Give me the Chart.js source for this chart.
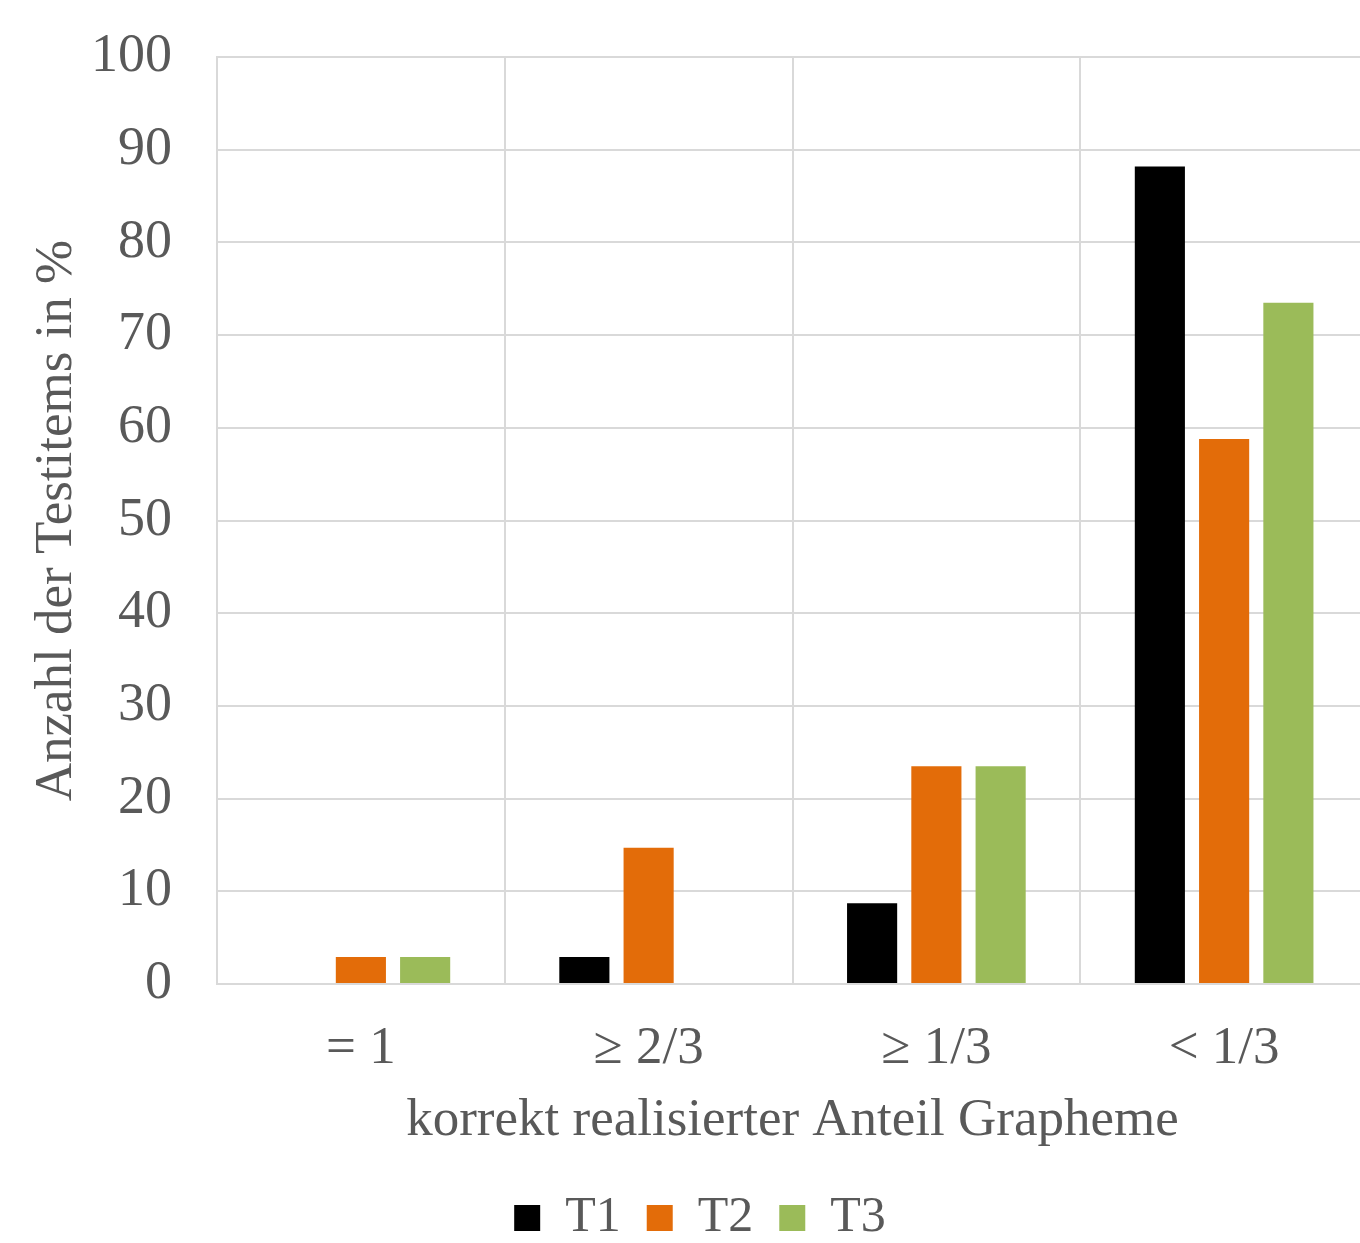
<!DOCTYPE html>
<html>
<head>
<meta charset="utf-8">
<script src="https://cdn.jsdelivr.net/npm/chart.js@4"></script>
<style>
  html, body { margin: 0; padding: 0; background: #fff; }
  #wrap { width: 1360px; height: 1243px; }
</style>
</head>
<body>
<div id="wrap"><canvas id="chart"></canvas></div>
<script>
// Kategorien und Werte (Prozent)
const categories = ['= 1', '≥ 2/3', '≥ 1/3', '< 1/3'];
const seriesNames = ['T1', 'T2', 'T3'];
const t1Values = [0, 2.9, 8.7, 88.2];
const t2Values = [2.9, 14.7, 23.5, 58.8];
const t3Values = [2.9, 0, 23.5, 73.5];
const seriesColors = ['#000000', '#E36C09', '#9BBB59'];

const fontFamily = '"Liberation Serif", "Times New Roman", serif';
const textColor = '#595959';
const gridColor = '#D9D9D9';

// Plotfläche reicht rechts etwas über den Rand hinaus (wie im Original),
// Legende leicht nach rechts versetzt
const stretchPlot = {
    id: 'stretchPlot',
    afterLayout(chart) {
        const right = 1368;
        const x = chart.scales.x;
        chart.chartArea.right = right;
        chart.chartArea.width = right - chart.chartArea.left;
        x.right = right;
        x.width = right - x.left;
        x.configure();
        if (chart.legend) {
            chart.legend.left += 20;
            chart.legend.right += 20;
        }
    }
};

const ctx = document.getElementById('chart').getContext('2d');
new Chart(ctx, {
    type: 'bar',
    data: {
        labels: categories,
        datasets: [t1Values, t2Values, t3Values].map((vals, i) => ({
            label: seriesNames[i],
            data: vals,
            backgroundColor: seriesColors[i],
            borderWidth: 0,
            barPercentage: 0.78,
            categoryPercentage: 0.67
        }))
    },
    plugins: [stretchPlot],
    options: {
        responsive: true,
        maintainAspectRatio: false,
        animation: false,
        layout: { padding: { top: 0, right: 0, left: 0, bottom: -10 } },
        plugins: {
            tooltip: { enabled: false },
            legend: {
                position: 'bottom',
                labels: {
                    boxWidth: 26,
                    boxHeight: 26,
                    padding: 26,
                    color: textColor,
                    font: { family: fontFamily, size: 50 }
                }
            }
        },
        scales: {
            x: {
                afterFit: function (scale) { scale.height = 183; },
                grid: { color: gridColor, lineWidth: 2, drawTicks: false },
                border: { color: gridColor, width: 2 },
                ticks: {
                    color: textColor,
                    padding: 33,
                    font: { family: fontFamily, size: 53 }
                },
                title: {
                    display: true,
                    text: 'korrekt realisierter Anteil Grapheme',
                    color: textColor,
                    padding: { top: 0, bottom: 14 },
                    font: { family: fontFamily, size: 53 }
                }
            },
            y: {
                min: 0,
                max: 100,
                afterFit: function (scale) {
                    scale.width = 217;
                    scale.paddingTop = 57;
                },
                grid: { color: gridColor, lineWidth: 2, drawTicks: false },
                border: { color: gridColor, width: 2 },
                ticks: {
                    stepSize: 10,
                    color: textColor,
                    padding: 45,
                    font: { family: fontFamily, size: 54 }
                },
                title: {
                    display: true,
                    text: 'Anzahl der Testitems in %',
                    color: textColor,
                    padding: { top: 25, bottom: 0 },
                    font: { family: fontFamily, size: 53 }
                }
            }
        }
    }
});
</script>
</body>
</html>
